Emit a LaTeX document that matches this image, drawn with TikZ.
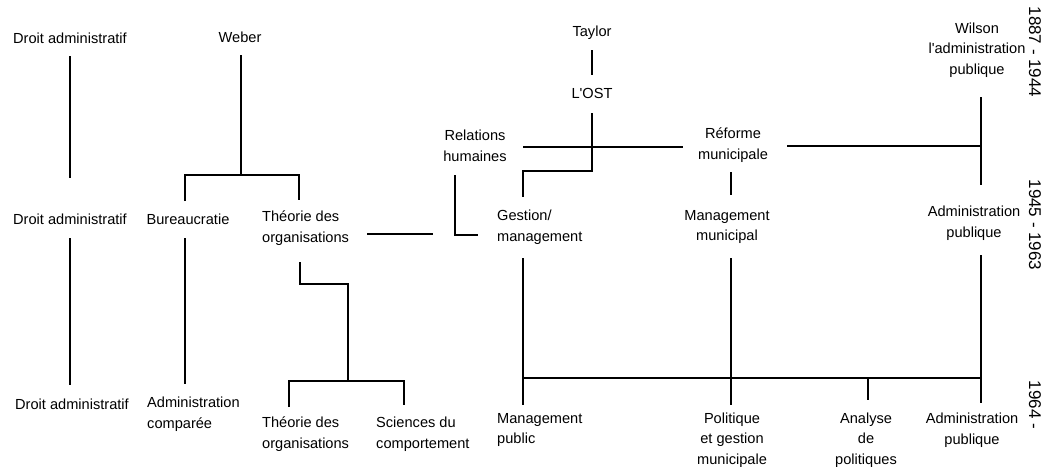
\documentclass[tikz,border=0pt]{standalone}
\usepackage{fontspec}
\setmainfont{Liberation Sans}
\usetikzlibrary{calc}
\begin{document}
\begin{tikzpicture}[x=1pt,y=-1pt,
  lbl/.style={inner sep=0pt, font=\fontsize{14.6}{20.5}\selectfont, align=center},
  lbll/.style={lbl, align=left, anchor=west},
  yr/.style={inner sep=0pt, font=\fontsize{17}{19}\selectfont, rotate=-90},
  ln/.style={line width=1.7pt, line join=miter}]
\useasboundingbox (0,0) rectangle (1043,466);
% row 1
\node[lbl] (da1) at (70,38) {Droit administratif};
\node[lbl] (weber) at (240,37) {Weber};
\node[lbl] (taylor) at (592,33) {Taylor};
\node[lbl] (ost) at (592,93) {L\textquotesingle OST};
\node[lbl] (wilson) at (977,50) {Wilson\\l\textquotesingle administration\\publique};
\node[lbl] (relh) at (475,146) {Relations\\humaines};
\node[lbl] (reforme) at (733,145) {Réforme\\municipale};
% row 2
\node[lbl] (da2) at (70,219) {Droit administratif};
\node[lbl] (bureau) at (188,219) {Bureaucratie};
\node[lbll] (theo1) at (262,228) {Théorie des\\organisations};
\node[lbll] (gestion) at (497,227) {Gestion/\\management};
\node[lbl] (mgmtmun) at (727,227) {Management\\municipal};
\node[lbl] (adpub2) at (974,223) {Administration\\publique};
% row 3
\node[lbl] (da3) at (72,404) {Droit administratif};
\node[lbll] (adcomp) at (147,414) {Administration\\comparée};
\node[lbll] (theo2) at (262,434) {Théorie des\\organisations};
\node[lbll] (sciences) at (376,434) {Sciences du\\comportement};
\node[lbll] (mgmtpub) at (497,430) {Management\\public};
\node[lbl] (polit) at (732,440) {Politique\\et gestion\\municipale};
\node[lbl] (analyse) at (866,440) {Analyse\\de\\politiques};
\node[lbl] (adpub3) at (972,430) {Administration\\publique};
% years
\node[yr] (y1) at (1035,52) {1887 - 1944};
\node[yr] (y2) at (1035,225) {1945 - 1963};
\node[yr] (y3) at (1035,405) {1964 -};
% junctions
\coordinate (wj) at (241,175);
\coordinate (wj2) at (981,146);
\coordinate (tj) at (348,381);
% connectors
\draw[ln] ($(da1)+(0,18)$) -- ($(da2)+(0,-41)$);
\draw[ln] ($(da2)+(0,19)$) -- ($(da3)+(-2,-19)$);
\draw[ln] ($(weber)+(1,18)$) -- (wj);
\draw[ln] ($(bureau)+(-3,-18)$) |- (wj) -| ($(theo1.west)+(37,-28)$);
\draw[ln] ($(bureau)+(-3,19)$) -- ($(adcomp.west)+(38,-30)$);
\draw[ln] ($(theo1.west)+(105,6)$) -- ($(gestion.west)+(-64,7)$);
\draw[ln] ($(relh)+(-20,29)$) |- ($(gestion.west)+(-19,8)$);
\draw[ln] ($(relh)+(48,1)$) -- ($(reforme)+(-50,2)$);
\draw[ln] ($(reforme)+(54,1)$) -- (wj2);
\draw[ln] ($(taylor)+(0,17)$) -- ($(ost)+(0,-18)$);
\draw[ln] ($(ost)+(0,20)$) -- ++(0,58) -| ($(gestion.west)+(26,-30)$);
\draw[ln] ($(reforme)+(-2,27)$) -- ($(mgmtmun)+(4,-32)$);
\draw[ln] ($(wilson)+(4,47)$) -- ($(adpub2)+(7,-38)$);
\draw[ln] ($(theo1.west)+(38,34)$) -- ++(0,22) -- ++(48,0) -- (tj);
\draw[ln] ($(theo2.west)+(27,-27)$) |- (tj) -| ($(sciences.west)+(28,-29)$);
\draw[ln] ($(gestion.west)+(26,31)$) -- ($(mgmtpub.west)+(26,-25)$);
\draw[ln] ($(mgmtmun)+(4,31)$) -- ($(polit)+(-1,-35)$);
\draw[ln] ($(adpub2)+(7,32)$) -- ($(adpub3)+(9,-27)$);
\draw[ln] ($(mgmtpub.west)+(26,-52)$) -- ($(adpub3)+(9,-52)$);
\draw[ln] ($(analyse)+(2,-62)$) -- ($(analyse)+(2,-40)$);
\end{tikzpicture}
\end{document}
